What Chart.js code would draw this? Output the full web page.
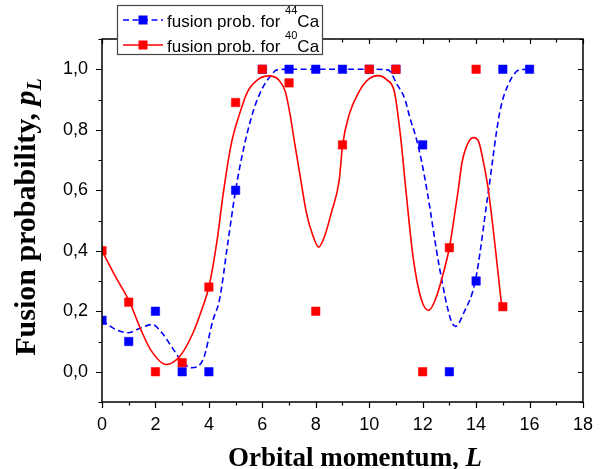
<!DOCTYPE html>
<html>
<head>
<meta charset="utf-8">
<script src="https://cdn.jsdelivr.net/npm/chart.js@4.4.1/dist/chart.umd.min.js"></script>
<style>
  html, body { margin: 0; padding: 0; background: #fff; }
</style>
</head>
<body>
<canvas id="chart" width="605" height="469"></canvas>
<script>
// measured points, orbital momentum L
const momentum = [0, 1, 2, 3, 4, 5, 6, 7, 8, 9, 10, 11, 12, 13, 14, 15, 16];
const prob44Ca = [0.17, 0.10, 0.20, 0.0, 0.0, 0.60, 1.0, 1.0, 1.0, 1.0, 1.0, 1.0, 0.75, 0.0, 0.30, 1.0, 1.0];
const prob40Ca = [0.40, 0.23, 0.0, 0.03, 0.28, 0.89, 1.0, 0.955, 0.20, 0.75, 1.0, 1.0, 0.0, 0.41, 1.0, 0.215];

// smooth fit curves
const fit44L = [0, 0.5, 0.96, 1.45, 1.88, 2.24, 2.67, 2.98, 3.35, 3.78, 4.15, 4.4, 4.7, 5.0, 5.33, 5.69, 6.0, 6.24, 6.55, 7.0, 8.0, 9.0, 10.0, 10.7, 11.04, 11.34, 11.52, 11.74, 11.95, 12.19, 12.62, 13.05, 13.23, 13.54, 13.97, 14.45, 14.89, 15.26, 15.63, 16.0];
const fit44P = [0.17, 0.14, 0.129, 0.145, 0.156, 0.129, 0.074, 0.035, 0.013, 0.04, 0.17, 0.239, 0.42, 0.6, 0.75, 0.87, 0.937, 0.97, 0.998, 1.0, 1.0, 1.0, 1.0, 0.998, 0.95, 0.90, 0.84, 0.778, 0.70, 0.585, 0.349, 0.173, 0.15, 0.195, 0.30, 0.59, 0.86, 0.96, 0.998, 1.0];
const fit40L = [0, 0.5, 1.02, 1.45, 1.81, 2.4, 2.92, 3.41, 3.78, 4.0, 4.3, 4.53, 4.83, 5.14, 5.45, 5.82, 6.24, 6.61, 6.86, 7.04, 7.22, 7.41, 7.65, 7.9, 8.11, 8.33, 8.58, 8.88, 9.0, 9.25, 9.62, 9.99, 10.33, 10.66, 10.94, 11.17, 11.39, 11.64, 11.95, 12.23, 12.48, 12.74, 13.0, 13.18, 13.33, 13.48, 13.72, 13.91, 14.1, 14.27, 14.46, 14.96];
const fit40P = [0.40, 0.315, 0.233, 0.14, 0.074, 0.024, 0.052, 0.129, 0.217, 0.28, 0.43, 0.585, 0.75, 0.85, 0.926, 0.965, 0.978, 0.965, 0.926, 0.85, 0.75, 0.65, 0.525, 0.448, 0.412, 0.448, 0.525, 0.635, 0.747, 0.85, 0.926, 0.968, 0.979, 0.965, 0.926, 0.78, 0.585, 0.38, 0.239, 0.203, 0.24, 0.315, 0.41, 0.51, 0.60, 0.695, 0.76, 0.774, 0.76, 0.695, 0.60, 0.216];

const xTicks = [0, 2, 4, 6, 8, 10, 12, 14, 16, 18];
const yTicks = [0, 0.2, 0.4, 0.6, 0.8, 1.0];

const BLUE = "#0000ff";
const RED = "#ff0000";
const SANS = "Arial, 'Liberation Sans', sans-serif";
const SERIF = "'Times New Roman', 'Liberation Serif', serif";

const toPoints = (xs, ys) => ys.map((v, i) => ({ x: xs[i], y: v }));

// box, minor ticks (out on left/bottom, in on top/right)
const frameTicks = {
  id: "frameTicks",
  afterDatasetsDraw(chart) {
    const { ctx, chartArea: a, scales: { x, y } } = chart;
    ctx.save();
    ctx.strokeStyle = "#000";
    ctx.lineWidth = 1.2;
    ctx.beginPath();
    for (let L = 0; L <= 18; L++) {
      const px = Math.round(x.getPixelForValue(L)) + 0.5;
      const major = L % 2 === 0;
      ctx.moveTo(px, a.bottom); ctx.lineTo(px, a.bottom + (major ? 6 : 3.5));
      ctx.moveTo(px, a.top); ctx.lineTo(px, a.top + (major ? 5 : 3.5));
    }
    for (let k = -1; k <= 11; k++) {
      const py = Math.round(y.getPixelForValue(k / 10)) + 0.5;
      const major = k % 2 === 0;
      ctx.moveTo(a.left, py); ctx.lineTo(a.left - (major ? 6 : 3.5), py);
      ctx.moveTo(a.right, py); ctx.lineTo(a.right - (major ? 5 : 3.5), py);
    }
    ctx.stroke();
    ctx.lineWidth = 1.5;
    ctx.strokeRect(a.left, a.top, a.right - a.left, a.bottom - a.top);
    ctx.restore();
  },
};

function drawRuns(ctx, runs, x, y) {
  for (const r of runs) {
    ctx.font = r.font;
    ctx.fillText(r.text, x, y + (r.dy || 0));
    x += ctx.measureText(r.text).width;
  }
}
function runsWidth(ctx, runs) {
  let w = 0;
  for (const r of runs) { ctx.font = r.font; w += ctx.measureText(r.text).width; }
  return w;
}

const titlesLegend = {
  id: "titlesLegend",
  afterDraw(chart) {
    const { ctx } = chart;
    ctx.save();
    ctx.fillStyle = "#000";
    ctx.textBaseline = "alphabetic";
    ctx.textAlign = "left";

    // x title
    const xRuns = [
      { text: "Orbital momentum, ", font: `bold 27px ${SERIF}` },
      { text: "L", font: `italic bold 27px ${SERIF}` },
    ];
    drawRuns(ctx, xRuns, 355 - runsWidth(ctx, xRuns) / 2, 466);

    // y title
    const yRuns = [
      { text: "Fusion probability, ", font: `bold 30px ${SERIF}` },
      { text: "p", font: `italic bold 30px ${SERIF}` },
      { text: "L", font: `italic bold 20px ${SERIF}`, dy: 6 },
    ];
    ctx.save();
    ctx.translate(35, 217);
    ctx.rotate(-Math.PI / 2);
    drawRuns(ctx, yRuns, -runsWidth(ctx, yRuns) / 2, 0);
    ctx.restore();

    // legend
    ctx.fillStyle = "#fff";
    ctx.fillRect(117, 5, 206, 50);
    ctx.strokeStyle = "#444";
    ctx.lineWidth = 1.2;
    ctx.strokeRect(117.5, 5.5, 205, 49);
    const rows = [
      { color: BLUE, dash: [6, 3.5], iso: "44", y: 20 },
      { color: RED, dash: [], iso: "40", y: 45 },
    ];
    for (const r of rows) {
      ctx.strokeStyle = r.color;
      ctx.lineWidth = 1.5;
      ctx.setLineDash(r.dash);
      ctx.beginPath();
      ctx.moveTo(123, r.y); ctx.lineTo(163, r.y);
      ctx.stroke();
      ctx.setLineDash([]);
      ctx.fillStyle = r.color;
      ctx.fillRect(138.5, r.y - 4.5, 9, 9);
      ctx.fillStyle = "#000";
      drawRuns(ctx, [
        { text: "fusion prob. for ", font: `17px ${SANS}` },
        { text: r.iso, font: `11px ${SANS}`, dy: -13 },
        { text: "Ca", font: `17px ${SANS}` },
      ], 167, r.y + 7);
    }
    ctx.restore();
  },
};

new Chart(document.getElementById("chart"), {
  type: "scatter",
  data: {
    datasets: [
      {
        data: toPoints(momentum, prob40Ca),
        backgroundColor: RED,
        borderColor: RED,
        pointStyle: "rect",
        pointRadius: 6,
        borderWidth: 0.5,
        order: 0,
      },
      {
        data: toPoints(momentum, prob44Ca),
        backgroundColor: BLUE,
        borderColor: BLUE,
        pointStyle: "rect",
        pointRadius: 6,
        borderWidth: 0.5,
        order: 1,
      },
      {
        data: toPoints(fit40L, fit40P),
        showLine: true,
        borderColor: RED,
        borderWidth: 1.6,
        pointRadius: 0,
        cubicInterpolationMode: "monotone",
        order: 2,
      },
      {
        data: toPoints(fit44L, fit44P),
        showLine: true,
        borderColor: BLUE,
        borderWidth: 1.6,
        borderDash: [6, 3.5],
        pointRadius: 0,
        cubicInterpolationMode: "monotone",
        order: 3,
      },
    ],
  },
  options: {
    responsive: false,
    animation: false,
    devicePixelRatio: 1,
    layout: { padding: { top: 39, right: 14, left: 0, bottom: 0 } },
    plugins: { legend: { display: false }, tooltip: { enabled: false } },
    scales: {
      x: {
        type: "linear",
        min: 0,
        max: 18,
        afterBuildTicks: (s) => { s.ticks = xTicks.map((v) => ({ value: v })); },
        afterFit: (s) => { s.height = 67; },
        grid: { display: false, drawTicks: false },
        border: { display: false },
        ticks: { color: "#000", font: { family: SANS, size: 18 }, padding: 12, maxRotation: 0, autoSkip: false },
      },
      y: {
        type: "linear",
        min: -0.1,
        max: 1.1,
        afterBuildTicks: (s) => { s.ticks = yTicks.map((v) => ({ value: v })); },
        afterFit: (s) => { s.width = 102; },
        grid: { display: false, drawTicks: false },
        border: { display: false },
        ticks: {
          color: "#000",
          font: { family: SANS, size: 18 },
          padding: 14,
          callback: (v) => v.toFixed(1).replace(".", ","),
        },
      },
    },
  },
  plugins: [frameTicks, titlesLegend],
});
</script>
</body>
</html>
